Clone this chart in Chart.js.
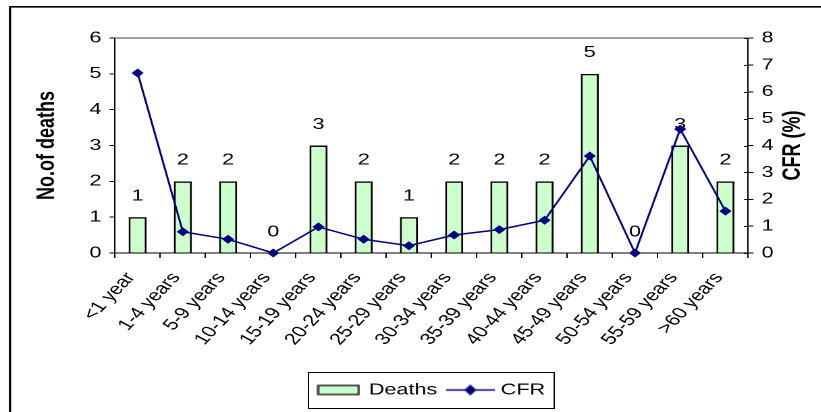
<!DOCTYPE html>
<html>
<head>
<meta charset="utf-8">
<script src="https://cdn.jsdelivr.net/npm/chart.js@4.4.0/dist/chart.umd.min.js"></script>
<style>
  html, body { margin: 0; padding: 0; background: #fff; overflow: hidden; }
  #wrap { width: 821px; height: 412px; overflow: hidden; }
  /* the original picture is stretched sideways, so the canvas is too */
  #chart { transform: scaleX(1.35); transform-origin: 0 0; }
</style>
</head>
<body>
<div id="wrap"><canvas id="chart"></canvas></div>
<script>
// data
const ageGroups = ['<1 year', '1-4 years', '5-9 years', '10-14 years', '15-19 years', '20-24 years',
  '25-29 years', '30-34 years', '35-39 years', '40-44 years', '45-49 years', '50-54 years',
  '55-59 years', '>60 years'];
const deaths = [1, 2, 2, 0, 3, 2, 1, 2, 2, 2, 5, 0, 3, 2];
const cfr = [6.7, 0.79, 0.51, 0, 0.97, 0.51, 0.27, 0.67, 0.87, 1.22, 3.61, 0, 4.61, 1.56];
const deathTicks = [0, 1, 2, 3, 4, 5, 6];
const cfrTicks = [0, 1, 2, 3, 4, 5, 6, 7, 8];

const FONT = "'Liberation Sans', Arial, sans-serif";
const BAR_FILL = '#ccffcc';
const NAVY = '#000080';

// petites images pour la légende
const makeSwatch = () => {
  const c = document.createElement('canvas');
  c.width = 32; c.height = 11;
  const g = c.getContext('2d');
  g.fillStyle = BAR_FILL;
  g.fillRect(1, 1, 30, 9);
  g.strokeStyle = '#000';
  g.lineWidth = 1.3;
  g.strokeRect(1, 1, 30, 9);
  return c;
};
const makeLineKey = () => {
  const c = document.createElement('canvas');
  c.width = 36; c.height = 12;
  const g = c.getContext('2d');
  g.strokeStyle = NAVY;
  g.lineWidth = 1.5;
  g.beginPath(); g.moveTo(0, 6); g.lineTo(36, 6); g.stroke();
  g.fillStyle = NAVY;
  g.beginPath();
  g.moveTo(18, 0.5); g.lineTo(22.5, 6); g.lineTo(18, 11.5); g.lineTo(13.5, 6);
  g.closePath(); g.fill();
  return c;
};

// cadre, ligne du haut, titres d'axes, étiquettes des barres
const decorations = {
  id: 'decorations',
  beforeDraw(chart) {
    const ctx = chart.ctx;
    ctx.save();
    ctx.strokeStyle = '#000';
    ctx.lineWidth = 1.6;
    ctx.beginPath();
    ctx.moveTo(7.4, 6.8); ctx.lineTo(7.4, 412);
    ctx.moveTo(6.6, 6.8); ctx.lineTo(chart.width, 6.8);
    ctx.stroke();
    ctx.restore();
  },
  afterDatasetDraw(chart, args) {
    if (args.index !== 0) return;
    const ctx = chart.ctx;
    ctx.save();
    ctx.font = `16px ${FONT}`;
    ctx.fillStyle = '#000';
    ctx.textAlign = 'center';
    ctx.textBaseline = 'middle';
    args.meta.data.forEach((bar, i) => {
      ctx.fillText(String(deaths[i]), bar.x, bar.y - 21);
    });
    ctx.restore();
  },
  afterDraw(chart) {
    const ctx = chart.ctx;
    const area = chart.chartArea;
    ctx.save();
    // ligne grise en haut de la zone de tracé
    ctx.strokeStyle = '#808080';
    ctx.lineWidth = 1.5;
    ctx.beginPath();
    ctx.moveTo(area.left, area.top); ctx.lineTo(area.right, area.top);
    ctx.stroke();
    // petites graduations vers l'intérieur sur l'axe de droite
    const y1 = chart.scales.y1;
    ctx.strokeStyle = '#000';
    ctx.lineWidth = 1;
    ctx.beginPath();
    cfrTicks.forEach(v => {
      const y = Math.round(y1.getPixelForValue(v)) + 0.5;
      ctx.moveTo(area.right - 3, y); ctx.lineTo(area.right, y);
    });
    ctx.stroke();
    // titres des axes
    const midY = (area.top + area.bottom) / 2;
    ctx.font = `bold 18px ${FONT}`;
    ctx.fillStyle = '#000';
    ctx.textAlign = 'center';
    ctx.textBaseline = 'middle';
    ctx.translate(34.8, midY);
    ctx.rotate(-Math.PI / 2);
    ctx.fillText('No.of deaths', 0, 0);
    ctx.setTransform(1, 0, 0, 1, 0, 0);
    ctx.scale(chart.currentDevicePixelRatio, chart.currentDevicePixelRatio);
    ctx.translate(587.4, midY);
    ctx.rotate(-Math.PI / 2);
    ctx.fillText('CFR (%)', 0, 0);
    ctx.restore();
    // cadre autour de la légende
    const lg = chart.legend;
    const hb = lg.legendHitBoxes;
    if (hb && hb.length) {
      const last = hb[hb.length - 1];
      ctx.save();
      ctx.strokeStyle = '#000';
      ctx.lineWidth = 1;
      const left = Math.round(hb[0].left - 8) + 0.5;
      const right = Math.round(last.left + last.width + 6) + 0.5;
      ctx.strokeRect(left, Math.round(lg.top) + 0.5, right - left, 36);
      ctx.restore();
    }
  }
};

const canvas = document.getElementById('chart');
canvas.width = 608;
canvas.height = 412;

new Chart(canvas, {
  data: {
    labels: ageGroups,
    datasets: [
      {
        type: 'bar',
        label: 'Deaths',
        data: deaths,
        yAxisID: 'y',
        backgroundColor: BAR_FILL,
        borderColor: '#000',
        borderWidth: 1.5,
        barPercentage: 0.4,
        categoryPercentage: 1,
        order: 2,
      },
      {
        type: 'line',
        label: 'CFR',
        data: cfr,
        yAxisID: 'y1',
        borderColor: NAVY,
        backgroundColor: NAVY,
        borderWidth: 1.5,
        pointStyle: 'rectRot',
        pointRadius: 4.5,
        pointBackgroundColor: NAVY,
        pointBorderColor: NAVY,
        pointBorderWidth: 0,
        tension: 0,
        clip: false,
        order: 1,
      },
    ],
  },
  options: {
    responsive: false,
    animation: false,
    devicePixelRatio: 2,
    layout: { padding: { left: 32, right: 0, top: 38, bottom: 4 } },
    scales: {
      x: {
        type: 'category',
        offset: true,
        border: { color: '#000', width: 1 },
        grid: { offset: true, drawOnChartArea: false, drawTicks: true, tickLength: 5, color: '#000' },
        ticks: {
          autoSkip: false,
          maxRotation: 54,
          minRotation: 54,
          padding: 11,
          labelOffset: -5,
          color: '#000',
          font: { size: 16, family: FONT },
        },
        afterFit: s => { s.height = 119; },
      },
      y: {
        position: 'left',
        min: 0,
        max: 6,
        border: { color: '#000', width: 1 },
        grid: { drawOnChartArea: false, tickLength: 4, color: '#000' },
        ticks: { padding: 6, color: '#000', font: { size: 16, family: FONT } },
        afterBuildTicks: s => { s.ticks = deathTicks.map(v => ({ value: v })); },
        afterFit: s => { s.width = 53.2; },
      },
      y1: {
        position: 'right',
        min: 0,
        max: 8,
        border: { color: '#000', width: 1 },
        grid: { drawOnChartArea: false, tickLength: 4, color: '#000' },
        ticks: { padding: 6, color: '#000', font: { size: 16, family: FONT } },
        afterBuildTicks: s => { s.ticks = cfrTicks.map(v => ({ value: v })); },
        afterFit: s => { s.width = 53.9; },
      },
    },
    plugins: {
      tooltip: { enabled: false },
      legend: {
        position: 'bottom',
        labels: {
          usePointStyle: true,
          pointStyleWidth: 29,
          boxHeight: 12,
          padding: 10,
          color: '#000',
          font: { size: 16, family: FONT },
          generateLabels: () => [
            { text: 'Deaths', pointStyle: makeSwatch(), fillStyle: BAR_FILL, strokeStyle: '#000', lineWidth: 0, hidden: false, datasetIndex: 0 },
            { text: 'CFR', pointStyle: makeLineKey(), fillStyle: NAVY, strokeStyle: NAVY, lineWidth: 0, hidden: false, datasetIndex: 1 },
          ],
        },
      },
    },
  },
  plugins: [decorations],
});
</script>
</body>
</html>
